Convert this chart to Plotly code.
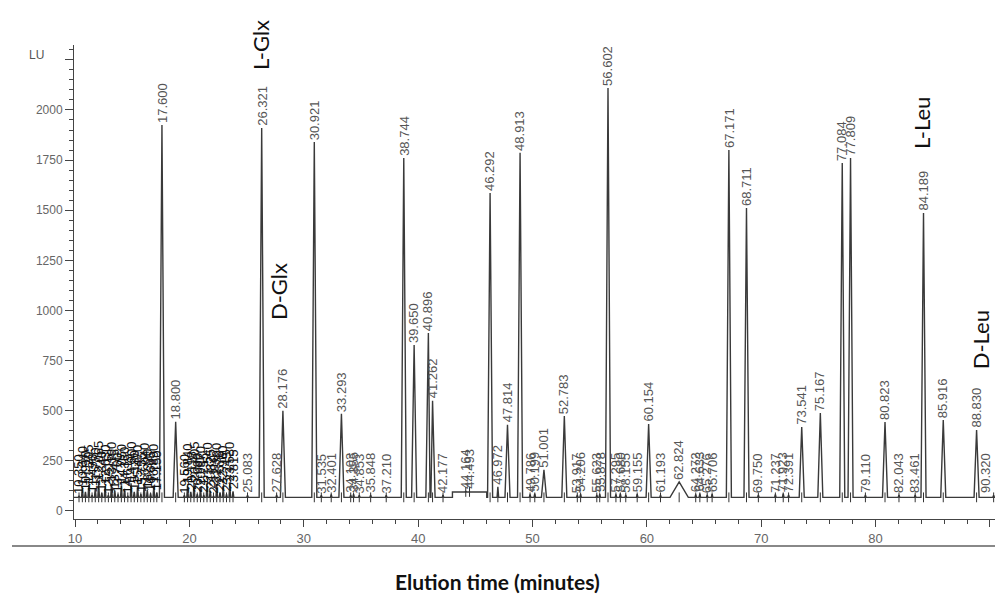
import plotly.graph_objects as go

# ---- data ----
main_rt = [17.600, 18.800, 26.321, 28.176, 30.921, 33.293, 38.744, 39.650, 40.896, 41.262,
           46.292, 47.814, 48.913, 51.001, 52.783, 56.602, 60.154, 62.824, 67.171, 68.711,
           73.541, 75.167, 77.084, 77.809, 80.823, 84.189, 85.916, 88.830]
main_h = [1925, 445, 1910, 500, 1840, 485, 1760, 828, 888, 550,
          1586, 430, 1786, 205, 474, 2110, 434, 145, 1800, 1511,
          419, 489, 1736, 1760, 444, 1486, 454, 404]

minor_rt = [25.083, 27.628, 31.535, 32.401, 34.103, 34.355, 34.853, 35.848, 37.210, 42.177,
            44.164, 44.493, 46.972, 49.786, 50.199, 53.917, 54.206, 55.623, 55.878, 57.295,
            57.680, 58.155, 59.155, 61.193, 64.272, 64.633, 65.276, 65.706, 69.750, 71.237,
            71.923, 72.391, 79.110, 82.043, 83.461, 90.320]
minor_h = [78, 80, 78, 82, 80, 84, 78, 80, 78, 80,
           98, 98, 120, 82, 86, 80, 84, 80, 84, 82,
           86, 80, 84, 80, 82, 86, 80, 84, 80, 82,
           86, 80, 80, 80, 80, 78]

cluster_rt = [10.350, 10.640, 10.910, 11.205, 11.490, 11.770, 12.065, 12.340, 12.630, 12.915,
              13.190, 13.475, 13.760, 14.050, 14.330, 14.615, 14.900, 15.180, 15.470, 15.755,
              16.040, 16.320, 16.605, 16.890, 17.150,
              19.560, 19.840, 20.118, 20.405, 20.690, 20.970, 21.255, 21.540, 21.825, 22.110,
              22.390, 22.676, 22.960, 23.245, 23.530, 23.815]
cluster_h = [75, 118, 95, 130, 80, 112, 140, 90, 124, 78,
             135, 100, 82, 128, 110, 76, 138, 96, 120, 84,
             132, 104, 88, 126, 92,
             78, 126, 96, 138, 84, 118, 80, 134, 102, 76,
             130, 92, 120, 84, 136, 98]

baseline = 68
raised_start, raised_end, raised_level = 43.0, 46.0, 95

peak_names = ["L-Glx", "D-Glx", "L-Leu", "D-Leu"]
name_rt = [26.17, 27.75, 83.97, 89.25]
name_val = [2324, 1092, 1935, 853]

y_ticks = [0, 250, 500, 750, 1000, 1250, 1500, 1750, 2000, 2250]
y_ticktext = ["0", "250", "500", "750", "1000", "1250", "1500", "1750", "2000", ""]
x_ticks = [10, 20, 30, 40, 50, 60, 70, 80, 90]

# ---- build the trace from the peak list ----
kinds = (["m"] * len(main_rt)) + (["s"] * len(minor_rt)) + (["c"] * len(cluster_rt))
peaks = sorted(zip(main_rt + minor_rt + cluster_rt, main_h + minor_h + cluster_h, kinds))


def base_at(t):
    return raised_level if raised_start <= t <= raised_end else baseline


pts = [(9.91, baseline), (90.44, baseline),
       (raised_start, baseline), (raised_start, raised_level),
       (raised_end, raised_level), (raised_end, baseline)]
for t, h, kind in peaks:
    hw = 0.8 if abs(t - 62.824) < 1e-6 else (0.22 if kind == "m" else 0.07)
    pts += [(t - hw, base_at(t - hw)), (t, h), (t + hw, base_at(t + hw))]
pts.sort(key=lambda p: p[0])
xs = [p[0] for p in pts]
ys = [p[1] for p in pts]

fig = go.Figure()
fig.add_trace(go.Scatter(x=xs, y=ys, mode="lines",
                         line=dict(color="#3a3a3a", width=1.4), hoverinfo="skip"))
all_rt = main_rt + minor_rt + cluster_rt
fig.add_trace(go.Scatter(x=all_rt, y=[base_at(t) for t in all_rt], mode="markers",
                         marker=dict(symbol="line-ns-open", size=7, color="#333",
                                     line=dict(color="#333", width=1)),
                         hoverinfo="skip"))

label_font = dict(family="Liberation Sans, Arial, sans-serif", size=13, color="#555")
cluster_font = dict(family="Liberation Sans, Arial, sans-serif", size=13, color="#111")
anns = []
for t, h, kind in peaks:
    anns.append(dict(x=t, y=h, xref="x", yref="y", text=f"{t:.3f}", textangle=-90,
                     showarrow=False, xanchor="center", yanchor="bottom", yshift=1,
                     xshift=(-8 if t > 90 else 0),
                     borderpad=0, font=(cluster_font if kind == "c" else label_font)))
for name, t, v in zip(peak_names, name_rt, name_val):
    anns.append(dict(x=t, y=v, xref="x", yref="y", text=name, textangle=-90,
                     showarrow=False, xanchor="center", yanchor="middle",
                     font=dict(family="Lato, Carlito, sans-serif", size=22, color="#111")))
anns.append(dict(x=-0.041, y=(519 - 55) / 474, xref="paper", yref="paper", text="LU",
                 showarrow=False, xanchor="center", yanchor="middle",
                 font=dict(family="Liberation Sans, Arial, sans-serif", size=12, color="#555")))
anns.append(dict(x=(497 - 74) / 921, y=(519 - 581) / 474, xref="paper", yref="paper",
                 text="<b>Elution time (minutes)</b>", showarrow=False,
                 xanchor="center", yanchor="middle",
                 font=dict(family="Lato, sans-serif", size=21, color="#111")))

fig.update_layout(
    width=995, height=597,
    margin=dict(l=74, r=0, t=45, b=78),
    plot_bgcolor="white", paper_bgcolor="white",
    showlegend=False,
    annotations=anns,
    shapes=[dict(type="line", xref="paper", yref="paper",
                 x0=(12 - 74) / 921, x1=1.0, y0=(519 - 546) / 474, y1=(519 - 546) / 474,
                 line=dict(color="#888", width=2))],
)
fig.update_xaxes(range=[9.91, 90.44], tickvals=x_ticks, ticks="outside", ticklen=7,
                 tickcolor="#444", showline=True, linecolor="#444", linewidth=1,
                 showgrid=False, zeroline=False,
                 tickfont=dict(family="Liberation Sans, Arial, sans-serif", size=13, color="#666"),
                 minor=dict(dtick=2, ticks="outside", ticklen=4, tickcolor="#444", showgrid=False))
fig.update_yaxes(range=[-40, 2324], tickvals=y_ticks, ticktext=y_ticktext, ticks="outside",
                 ticklen=8, tickcolor="#444", showline=True, linecolor="#444", linewidth=1,
                 showgrid=False, zeroline=False,
                 tickfont=dict(family="Liberation Sans, Arial, sans-serif", size=12, color="#666"),
                 minor=dict(dtick=50, ticks="outside", ticklen=4, tickcolor="#444", showgrid=False))

fig.write_html("out.html")
